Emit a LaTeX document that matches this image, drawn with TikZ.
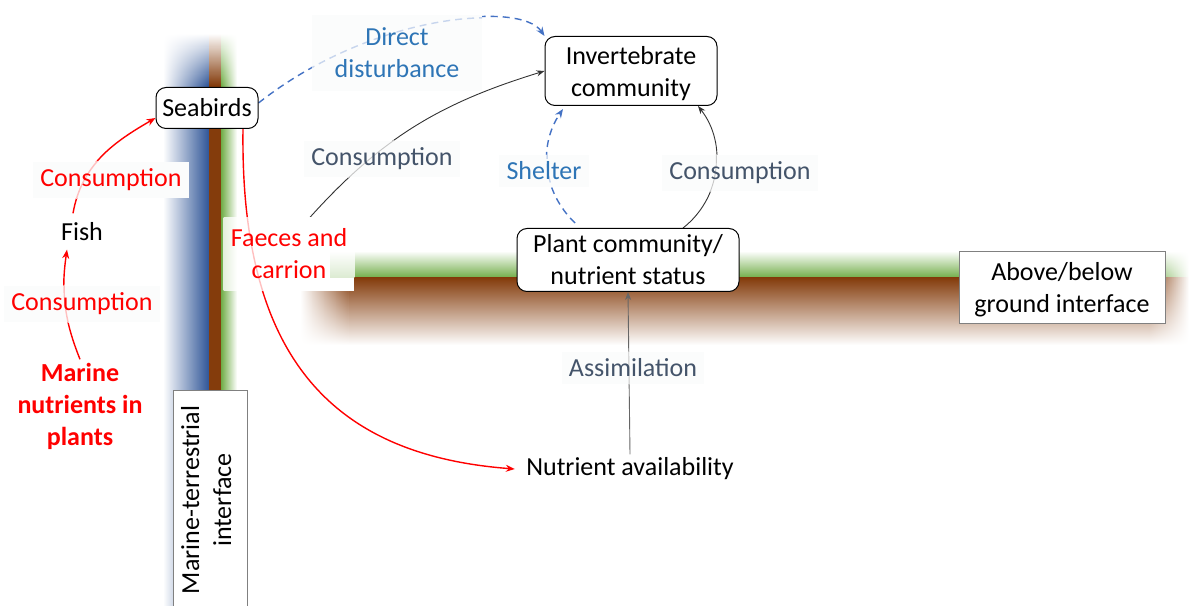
\documentclass[tikz,border=0pt]{standalone}
\usepackage{fontspec}
\setmainfont{Carlito}
\usetikzlibrary{arrows.meta}
\definecolor{cred}{HTML}{FF0000}
\definecolor{cblue}{HTML}{2E75B6}
\definecolor{cdash}{HTML}{4472C4}
\definecolor{cslate}{HTML}{44546A}
\definecolor{cgreen}{HTML}{70AD47}
\definecolor{cbrown}{HTML}{843C0C}
\definecolor{cdblue}{HTML}{2F5597}
\definecolor{labbg}{HTML}{FBFCFC}
\newcommand\diagfont{\fontsize{26}{32}\selectfont}
% connector paths (used for the arrow and for its faint copy under label boxes)
\newcommand\pMnutFish{(mnut.north) to[bend left=15] ([xshift=-15pt,yshift=-5pt]fish.south)}
\newcommand\pFishSea{([xshift=-9pt,yshift=6pt]fish.north) to[out=80,in=210] ([yshift=-10pt]sea.west)}
\newcommand\pSeaInv{([yshift=5pt]sea.east) .. controls (370,590) and (520,605) .. (inv.north west)}
\newcommand\pFaeInv{([xshift=21pt]fae.north) to[out=48,in=197] (inv.west)}
\newcommand\pSeaNut{([xshift=36pt]sea.south) .. controls (240,250) and (330,150) .. ([xshift=-8pt]nut.west)}
\newcommand\pShelter{([xshift=-53pt,yshift=5pt]pla.north) to[bend left=40] ([xshift=-68pt,yshift=-3pt]inv.south)}
\newcommand\pConsR{([xshift=55pt]pla.north) to[bend right=45] ([xshift=67pt]inv.south)}
\newcommand\pAssim{(nut.north) -- (pla.south)}
\pgfdeclarelayer{bands}
\pgfdeclarelayer{arrows}
\pgfdeclarelayer{lfill}
\pgfdeclarelayer{faint}
\pgfsetlayers{bands,arrows,lfill,faint,main}
\begin{document}
\begin{tikzpicture}[x=1pt,y=1pt,font=\diagfont,
  box/.style={draw=black, fill=white, rounded corners=10pt, line width=1pt, align=center, inner sep=3pt},
  sbox/.style={draw=black!50, fill=white, line width=0.8pt, align=center, inner sep=3pt},
  lab/.style={align=center, inner sep=7pt},
  rarr/.style={draw=cred, line width=1.4pt, -{Stealth[length=9pt,width=7pt]}},
  karr/.style={draw=black!80, line width=0.9pt, -{Stealth[length=8pt,width=6pt]}},
  garr/.style={draw=black!60, line width=0.9pt, -{Stealth[length=8pt,width=6pt]}},
  bdash/.style={draw=cdash, line width=1.4pt, dash pattern=on 7pt off 5pt, -{Stealth[length=9pt,width=7pt]}},
  rfaint/.style={draw=cred!25!white, line width=1.4pt},
  kfaint/.style={draw=black!22, line width=0.9pt},
  bfaint/.style={draw=cdash!30!white, line width=1.4pt, dash pattern=on 7pt off 5pt}]
\useasboundingbox (0,0) rectangle (1193,605);

% bands
\begin{pgfonlayer}{bands}
% vertical marine-terrestrial bar
\shade[left color=white, right color=cdblue] (163,-5) rectangle (209,521);
\fill[cbrown] (209,-5) rectangle (221,521);
\shade[left color=cgreen, right color=white] (221,-5) rectangle (237,521);
\foreach \k [evaluate=\k as \p using int(100-100*(\k+1)/52)] in {0,...,51} {
  \shade[left color=white, right color=cdblue!\p!white] (163,520+\k) rectangle (209,521.5+\k);
  \fill[cbrown!\p!white] (209,520+\k) rectangle (221,521.5+\k);
  \shade[left color=cgreen!\p!white, right color=white] (221,520+\k) rectangle (237,521.5+\k);
}
% horizontal above/below ground band
\shade[top color=white, bottom color=cgreen] (347,327) rectangle (1151,354);
\shade[top color=cbrown, bottom color=white] (347,260) rectangle (1151,327);
\foreach \k [evaluate=\k as \p using int(100*\k/48)] in {0,...,47} {
  \shade[top color=white, bottom color=cgreen!\p!white] (300+\k,327) rectangle (301.5+\k,354);
  \shade[top color=cbrown!\p!white, bottom color=white] (300+\k,260) rectangle (301.5+\k,327.5);
}
\foreach \k [evaluate=\k as \p using int(100-100*(\k+1)/40)] in {0,...,39} {
  \shade[top color=white, bottom color=cgreen!\p!white] (1150+\k,327) rectangle (1151.5+\k,354);
  \shade[top color=cbrown!\p!white, bottom color=white] (1150+\k,260) rectangle (1151.5+\k,327.5);
}
\end{pgfonlayer}

% nodes
\node[box, minimum width=102pt, minimum height=41pt] (sea) at (207,497) {Seabirds};
\node[box, minimum width=172pt, minimum height=69pt, text depth=-3pt] (inv) at (631,534) {Invertebrate\\community};
\node[box, minimum width=222pt, minimum height=63pt] (pla) at (628,345) {Plant community/\\nutrient status};
\node[sbox, minimum width=206pt, minimum height=72pt, text depth=-3pt] (abg) at (1062,318) {Above/below\\ground interface};
\node[sbox, rotate=90, minimum width=220pt, minimum height=74pt, text depth=8pt] (mti) at (210,105) {Marine-terrestrial\\interface};
\node (fish) at (82,373) {Fish};
\node[text=cred, font=\diagfont\bfseries, align=center] (mnut) at (80,199) {Marine\\nutrients in\\plants};
\node (nut) at (630,136) {Nutrient availability};

% labels
\node[lab, text=cred] (c1) at (111,425) {Consumption};
\node[lab, text=cred] (c2) at (82,301) {Consumption};
\node[lab, text=cred, minimum width=126pt, minimum height=73pt] (fae) at (289,351) {Faeces and\\carrion};
\node[lab, text=cblue, minimum width=170pt, minimum height=75pt] (dd) at (397,552) {Direct\\disturbance};
\node[lab, text=cslate] (c3) at (382,446) {Consumption};
\node[lab, text=cblue] (she) at (544,434) {Shelter};
\node[lab, text=cslate] (c4) at (740,432) {Consumption};
\node[lab, text=cslate] (ass) at (633,237) {Assimilation};

% label backgrounds
\begin{pgfonlayer}{lfill}
\foreach \n in {c1,c2,dd,c3,she,c4,ass}
  \fill[labbg] (\n.south west) rectangle (\n.north east);
\fill[white] (fae.south west) rectangle (fae.north east);
\end{pgfonlayer}

% arrows
\begin{pgfonlayer}{arrows}
\draw[rarr] \pMnutFish;
\draw[rarr] \pFishSea;
\draw[bdash] \pSeaInv;
\draw[karr] \pFaeInv;
\draw[rarr] \pSeaNut;
\draw[bdash] \pShelter;
\draw[karr] \pConsR;
\draw[garr] \pAssim;
\end{pgfonlayer}

% faint traces seen through the label backgrounds
\begin{pgfonlayer}{faint}
\begin{scope}\clip (c1.south west) rectangle (c1.north east); \draw[rfaint] \pFishSea; \end{scope}
\begin{scope}\clip (c2.south west) rectangle (c2.north east); \draw[rfaint] \pMnutFish; \end{scope}
\begin{scope}\clip (dd.south west) rectangle (dd.north east); \draw[bfaint] \pSeaInv; \end{scope}
\begin{scope}\clip (c3.south west) rectangle (c3.north east); \draw[kfaint] \pFaeInv; \end{scope}
\begin{scope}\clip (she.south west) rectangle (she.north east); \draw[bfaint] \pShelter; \end{scope}
\begin{scope}\clip (c4.south west) rectangle (c4.north east); \draw[kfaint] \pConsR; \end{scope}
\begin{scope}\clip (ass.south west) rectangle (ass.north east); \draw[kfaint] \pAssim; \end{scope}
\begin{scope}\clip (fae.south west) rectangle (fae.north east);
  \fill[cbrown!18!white] (209,300) rectangle (221,400);
  \shade[left color=cgreen!22!white, right color=white] (221,300) rectangle (237,400);
  \shade[top color=white, bottom color=cgreen!25!white] (330,327) rectangle (360,354);
  \draw[rfaint] \pSeaNut;
\end{scope}
\end{pgfonlayer}
\end{tikzpicture}
\end{document}
